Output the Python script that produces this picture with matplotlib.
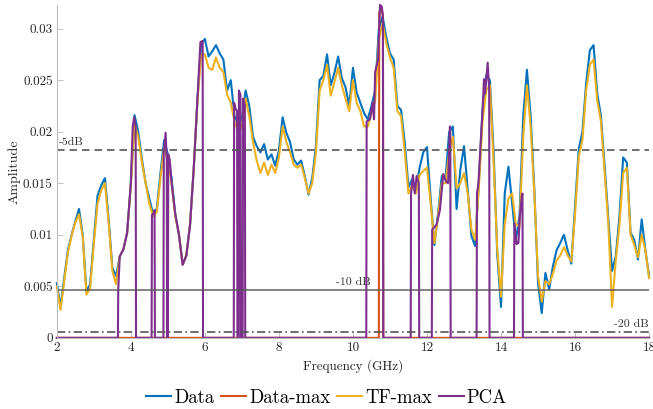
import numpy as np
import matplotlib
matplotlib.use('Agg')
import matplotlib.pyplot as plt

plt.rcParams['font.family'] = ['cmr10', 'DejaVu Serif']
plt.rcParams['axes.unicode_minus'] = False
plt.rcParams['mathtext.fontset'] = 'cm'

# frequency grid (GHz), 0.1 GHz step
freq = np.round(np.arange(2.0, 18.0001, 0.1), 2)

# measured amplitude
data_amp = [
    0.0053, 0.0030, 0.0058, 0.0085, 0.0100, 0.0113, 0.0125, 0.0100, 0.0045, 0.0052,  # 2.x
    0.0095, 0.0138, 0.0148, 0.0155, 0.0115, 0.0068, 0.0060, 0.0079, 0.0086, 0.0102,  # 3.x
    0.0150, 0.0216, 0.0200, 0.0173, 0.0150, 0.0135, 0.0120, 0.0125, 0.0160, 0.0192,  # 4.x
    0.0178, 0.0155, 0.0120, 0.0100, 0.0071, 0.0080, 0.0110, 0.0165, 0.0232, 0.0285,  # 5.x
    0.0290, 0.0273, 0.0278, 0.0284, 0.0276, 0.0270, 0.0240, 0.0250, 0.0215, 0.0208,  # 6.x
    0.0212, 0.0240, 0.0225, 0.0195, 0.0186, 0.0180, 0.0188, 0.0173, 0.0178, 0.0167,  # 7.x
    0.0182, 0.0214, 0.0199, 0.0190, 0.0173, 0.0168, 0.0172, 0.0157, 0.0139, 0.0155,  # 8.x
    0.0186, 0.0250, 0.0254, 0.0275, 0.0245, 0.0257, 0.0273, 0.0252, 0.0243, 0.0225,  # 9.x
    0.0262, 0.0238, 0.0228, 0.0218, 0.0212, 0.0225, 0.0240, 0.0300, 0.0312, 0.0292,  # 10.x
    0.0276, 0.0270, 0.0225, 0.0221, 0.0189, 0.0146, 0.0154, 0.0142, 0.0165, 0.0180,  # 11.x
    0.0185, 0.0135, 0.0090, 0.0121, 0.0157, 0.0154, 0.0200, 0.0205, 0.0125, 0.0163,  # 12.x
    0.0186, 0.0144, 0.0099, 0.0089, 0.0150, 0.0220, 0.0255, 0.0250, 0.0180, 0.0080,  # 13.x
    0.0030, 0.0140, 0.0166, 0.0131, 0.0095, 0.0118, 0.0215, 0.0260, 0.0215, 0.0144,  # 14.x
    0.0053, 0.0024, 0.0063, 0.0047, 0.0069, 0.0085, 0.0092, 0.0100, 0.0085, 0.0072,  # 15.x
    0.0127, 0.0183, 0.0200, 0.0247, 0.0279, 0.0284, 0.0237, 0.0215, 0.0166, 0.0115,  # 16.x
    0.0065, 0.0079, 0.0118, 0.0175, 0.0170, 0.0102, 0.0095, 0.0076, 0.0115, 0.0085,  # 17.x
    0.0060,
]

# TF-max estimate
tf_amp = [
    0.0050, 0.0027, 0.0055, 0.0083, 0.0099, 0.0112, 0.0120, 0.0098, 0.0042, 0.0048,
    0.0092, 0.0130, 0.0143, 0.0150, 0.0112, 0.0065, 0.0052, 0.0079, 0.0086, 0.0102,
    0.0148, 0.0208, 0.0195, 0.0170, 0.0150, 0.0130, 0.0118, 0.0122, 0.0155, 0.0185,
    0.0172, 0.0150, 0.0118, 0.0100, 0.0071, 0.0080, 0.0110, 0.0165, 0.0230, 0.0275,
    0.0275, 0.0262, 0.0260, 0.0272, 0.0262, 0.0258, 0.0236, 0.0228, 0.0210, 0.0200,
    0.0205, 0.0232, 0.0215, 0.0190, 0.0172, 0.0160, 0.0170, 0.0158, 0.0168, 0.0160,
    0.0175, 0.0205, 0.0190, 0.0180, 0.0168, 0.0165, 0.0168, 0.0155, 0.0140, 0.0150,
    0.0180, 0.0240, 0.0250, 0.0265, 0.0235, 0.0248, 0.0262, 0.0245, 0.0232, 0.0220,
    0.0250, 0.0228, 0.0220, 0.0205, 0.0205, 0.0218, 0.0230, 0.0290, 0.0305, 0.0286,
    0.0272, 0.0262, 0.0220, 0.0215, 0.0180, 0.0140, 0.0148, 0.0140, 0.0158, 0.0162,
    0.0165, 0.0130, 0.0092, 0.0118, 0.0150, 0.0150, 0.0180, 0.0195, 0.0145, 0.0150,
    0.0160, 0.0140, 0.0105, 0.0095, 0.0145, 0.0210, 0.0240, 0.0245, 0.0170, 0.0085,
    0.0040, 0.0110, 0.0135, 0.0140, 0.0110, 0.0108, 0.0195, 0.0245, 0.0205, 0.0140,
    0.0060, 0.0035, 0.0055, 0.0052, 0.0062, 0.0075, 0.0080, 0.0088, 0.0080, 0.0074,
    0.0120, 0.0176, 0.0192, 0.0240, 0.0265, 0.0270, 0.0230, 0.0210, 0.0160, 0.0110,
    0.0030, 0.0075, 0.0110, 0.0160, 0.0165, 0.0100, 0.0090, 0.0078, 0.0100, 0.0085,
    0.0058,
]

# Data-max: single spike
dmax_f = [2.0, 10.70, 10.71, 10.76, 10.81, 10.82, 18.0]
dmax_amp = [0, 0, 0.0315, 0.0322, 0.0312, 0, 0]

# PCA: nonzero only inside the selected bands
pca_f = [2.0,
         3.65, 3.66, 3.70, 3.80, 3.90, 4.00, 4.05, 4.09, 4.13, 4.14,
         4.56, 4.57, 4.61, 4.64, 4.65,
         4.88, 4.89, 4.94, 4.97, 4.98,
         5.00, 5.01, 5.05, 5.10, 5.20, 5.30, 5.40, 5.50, 5.60, 5.70, 5.80, 5.88, 5.94, 5.95,
         6.78, 6.79, 6.83, 6.87, 6.88,
         6.91, 6.92, 6.96, 6.97,
         7.02, 7.03, 7.08, 7.09,
         10.36, 10.37, 10.46, 10.53, 10.57, 10.60, 10.64, 10.68, 10.73, 10.78, 10.81, 10.82,
         11.56, 11.57, 11.62, 11.67, 11.72, 11.78, 11.79,
         12.13, 12.14, 12.26, 12.35, 12.44, 12.51, 12.57, 12.62, 12.63, 12.64,
         13.34, 13.35, 13.39, 13.45, 13.50, 13.54, 13.57, 13.64, 13.68, 13.69,
         14.35, 14.36, 14.42, 14.47, 14.51, 14.56, 14.58, 14.59,
         18.0]
pca_amp = [0,
           0, 0.0047, 0.0079, 0.0086, 0.0102, 0.0150, 0.0205, 0.0214, 0.0205, 0,
           0, 0.0119, 0.0121, 0.0124, 0,
           0, 0.0180, 0.0199, 0.0172, 0,
           0, 0.0178, 0.0173, 0.0150, 0.0120, 0.0100, 0.0071, 0.0080, 0.0110, 0.0165, 0.0232, 0.0287, 0.0288, 0,
           0, 0.0228, 0.0222, 0.0220, 0,
           0, 0.0240, 0.0236, 0,
           0, 0.0232, 0.0226, 0,
           0, 0.0210, 0.0212, 0.0228, 0.0212, 0.0258, 0.0264, 0.0270, 0.0323, 0.0321, 0.0312, 0,
           0, 0.0140, 0.0158, 0.0140, 0.0157, 0.0150, 0,
           0, 0.0105, 0.0110, 0.0124, 0.0159, 0.0152, 0.0150, 0.0205, 0.0200, 0,
           0, 0.0140, 0.0150, 0.0189, 0.0220, 0.0251, 0.0237, 0.0267, 0.0241, 0,
           0, 0.0111, 0.0091, 0.0092, 0.0118, 0.0137, 0.0140, 0,
           0]

# reference levels
lvl_5db = 0.0182
lvl_10db = 0.0046
lvl_20db = 0.0006

C_DATA = '#0072BD'
C_DMAX = '#D95319'
C_TF = '#EDB120'
C_PCA = '#7E2F8E'

fig = plt.figure(figsize=(6.53, 4.09), dpi=100)
ax = fig.add_axes([0.087, 0.174, 0.907, 0.814])

lw = 1.5
ax.plot(freq, data_amp, color=C_DATA, lw=lw, label='Data', clip_on=False)
ax.plot(dmax_f, dmax_amp, color=C_DMAX, lw=lw, label='Data-max', clip_on=False)
ax.plot(freq, tf_amp, color=C_TF, lw=lw, label='TF-max', clip_on=False)
ax.plot(pca_f, pca_amp, color=C_PCA, lw=lw, label='PCA', clip_on=False)

# threshold lines
ax.axhline(lvl_5db, color='#555555', lw=1.2, ls=(0, (4.5, 3)))
ax.axhline(lvl_10db, color='#555555', lw=1.2, ls='-', alpha=0.85)
ax.axhline(lvl_20db, color='#555555', lw=1.2, ls=(0, (5, 2, 1, 2)))
ax.text(2.05, lvl_5db + 0.0003, '-5dB', fontsize=8.5, color='#333333', va='bottom', ha='left')
ax.text(9.55, lvl_10db + 0.0003, '-10 dB', fontsize=8.5, color='#333333', va='bottom', ha='left')
ax.text(17.98, lvl_20db + 0.0003, '-20 dB', fontsize=8.5, color='#333333', va='bottom', ha='right')

ax.set_xlim(2, 18)
ax.set_ylim(0, 0.0323)
ax.set_xticks(np.arange(2, 19, 2))
ax.set_yticks([0, 0.005, 0.01, 0.015, 0.02, 0.025, 0.03])
ax.set_yticklabels(['0', '0.005', '0.01', '0.015', '0.02', '0.025', '0.03'])

for s in ['top', 'right']:
    ax.spines[s].set_visible(False)
for s in ['left', 'bottom']:
    ax.spines[s].set_color('#bbbbbb')
    ax.spines[s].set_linewidth(0.8)
ax.tick_params(direction='in', length=4, width=0.6, color='#bbbbbb',
               labelsize=9.5, labelcolor='#262626', pad=3)

ax.set_xlabel('Frequency (GHz)', fontsize=9.5, color='#262626', labelpad=4)
ax.set_ylabel('Amplitude', fontsize=10, color='#262626', labelpad=2)

fig.legend(loc='center', bbox_to_anchor=(0.5, 0.027), ncol=4, frameon=False,
           fontsize=13.5, handlelength=1.33, handletextpad=0.18, columnspacing=0.35)

fig.savefig('out.png', dpi=100)
